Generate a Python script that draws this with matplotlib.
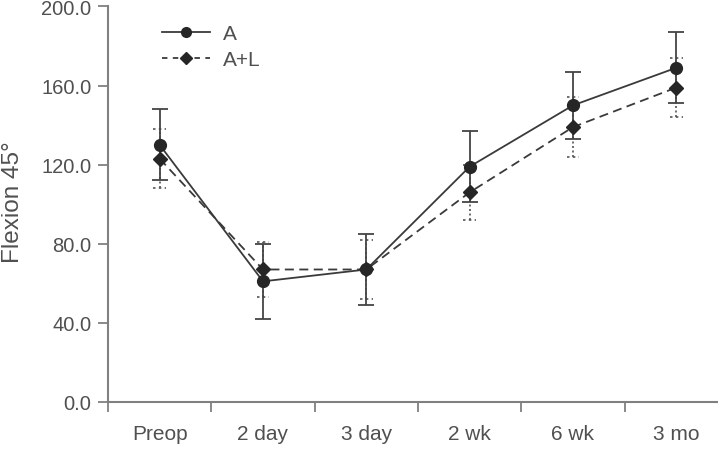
import matplotlib
matplotlib.use("Agg")
import matplotlib.pyplot as plt
import numpy as np
from matplotlib.lines import Line2D

categories = ["Preop", "2 day", "3 day", "2 wk", "6 wk", "3 mo"]
a_mean = [130, 61, 67, 119, 150, 169]
a_sd = [18, 19, 18, 18, 17, 18]
al_mean = [123, 67, 67, 106, 139, 159]
al_sd = [15, 14, 15, 14, 15, 15]
yticks = [0, 40, 80, 120, 160, 200]

plt.rcParams['font.family'] = ['Liberation Sans', 'DejaVu Sans']
text_c = '#505050'
spine_c = '#808080'
line_c = '#3a3a3a'
mark_c = '#262626'

fig = plt.figure(figsize=(7.18, 4.64), dpi=100)
ax = fig.add_axes([0.1504, 0.1315, 0.8635, 0.8524])

x = np.arange(len(categories))

# A+L error bars (dotted)
eb2 = ax.errorbar(x, al_mean, yerr=al_sd, fmt='none', ecolor='#555555',
                  elinewidth=1.2, capsize=0, zorder=2)
eb2[2][0].set_linestyle((0, (1.2, 1.5)))
w = 0.06
ax.hlines(np.array(al_mean) + np.array(al_sd), x - w, x + w, colors='#555555',
          linestyles=(0, (1.5, 2)), linewidth=1.2, zorder=2)
ax.hlines(np.array(al_mean) - np.array(al_sd), x - w, x + w, colors='#555555',
          linestyles=(0, (1.5, 2)), linewidth=1.2, zorder=2)

# A error bars (solid)
ax.errorbar(x, a_mean, yerr=a_sd, fmt='none', ecolor='#444444',
            elinewidth=1.3, capsize=6, capthick=1.3, zorder=3)

ax.plot(x, al_mean, linestyle=(0, (5, 3)), color=line_c, linewidth=1.3,
        marker='D', markersize=7, markerfacecolor=mark_c, markeredgecolor=mark_c,
        zorder=4)
ax.plot(x, a_mean, linestyle='-', color=line_c, linewidth=1.3,
        marker='o', markersize=8.5, markerfacecolor=mark_c, markeredgecolor=mark_c,
        zorder=5)

# Legend handles
h1 = Line2D([], [], linestyle='-', color=line_c, linewidth=1.3, marker='o',
            markersize=7, markerfacecolor=mark_c, markeredgecolor=mark_c)
h2 = Line2D([], [], linestyle=(0, (3, 3)), color=line_c, linewidth=1.3, marker='D',
            markersize=6, markerfacecolor=mark_c, markeredgecolor=mark_c)
leg = ax.legend([h1, h2], ["A", "A+L"], loc='upper left',
                bbox_to_anchor=(0.057, 1.003), frameon=False, fontsize=15,
                handlelength=2.3, handletextpad=0.6, labelspacing=0.35,
                labelcolor=text_c)

ax.set_xlim(-0.5, len(categories) - 0.5)
ax.set_ylim(0, 200)
ax.set_yticks(yticks)
ax.set_yticklabels([f"{v:.1f}" for v in yticks])

ax.set_xticks(np.arange(-0.5, len(categories) - 0.5, 1.0))
ax.set_xticklabels([])
ax.set_xticks(x, minor=True)
ax.set_xticklabels(categories, minor=True)
ax.tick_params(axis='x', which='major', length=7, width=1.3, color=spine_c, direction='out')
ax.tick_params(axis='x', which='minor', length=0, pad=16, labelsize=15, labelcolor=text_c)
ax.tick_params(axis='y', length=7, width=1.3, color=spine_c, direction='out',
               pad=5, labelsize=14.5, labelcolor=text_c)

for s in ['top', 'right']:
    ax.spines[s].set_visible(False)
for s in ['left', 'bottom']:
    ax.spines[s].set_color(spine_c)
    ax.spines[s].set_linewidth(1.5)

fig.text(0.018, 0.565, "Flexion 45°", rotation=90, fontsize=17.5, color=text_c,
         ha='center', va='center')

fig.savefig("out.png", dpi=100)
